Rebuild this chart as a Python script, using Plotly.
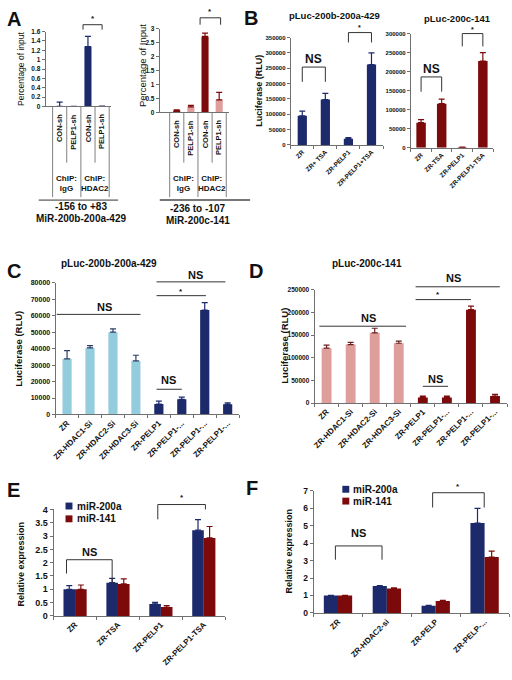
import plotly.graph_objects as go

W, H = 512, 680
def px(p): return p / W
def py(p): return 1 - p / H

FONT = "Arial, Liberation Sans, sans-serif"
NAVY = "#1C2A6C"
DRED = "#7C0A0A"
PINK = "#DE9E9C"
LBLUE = "#93CCDD"
AXC = "#707070"
TXT = "#111111"

# ---------------- data ----------------
A_cats = ["CON-sh", "PELP1-sh", "CON-sh", "PELP1-sh"]
A_groups = ["ChIP:<br>IgG", "ChIP:<br>HDAC2"]
A1_vals = [0.004, 0.004, 1.28, 0.008]
A1_err = [0.09, 0.0, 0.22, 0.0]
A2_vals = [0.07, 0.20, 2.72, 0.45]
A2_err = [0.02, 0.05, 0.12, 0.27]
A1_region = ["-156 to +83", "MiR-200b-200a-429"]
A2_region = ["-236 to -107", "MiR-200c-141"]
A1_ytitle = "Percentage of input"
A2_ytitle = "Percentage of Input"

B1_title = "pLuc-200b-200a-429"
B1_cats = ["ZR", "ZR+ TSA", "ZR-PELP1", "ZR-PELP1+TSA"]
B1_vals = [95000, 148000, 20000, 262000]
B1_err = [15000, 20000, 4000, 38000]
B2_title = "pLuc-200c-141"
B2_cats = ["ZR", "ZR-TSA", "ZR-PELP1", "ZR-PELP1-TSA"]
B2_vals = [66000, 116000, 1500, 228000]
B2_err = [8000, 12000, 500, 22000]
LUC_title = "Luciferase (RLU)"

C_title = "pLuc-200b-200a-429"
C_cats = ["ZR", "ZR-HDAC1-Si", "ZR-HDAC2-Si", "ZR-HDAC3-Si",
          "ZR-PELP1", "ZR-PELP1-...", "ZR-PELP1-...", "ZR-PELP1-..."]
C_vals = [33800, 40500, 50000, 32600, 6300, 9200, 63500, 6200]
C_err = [5000, 1400, 2000, 3400, 1800, 1300, 4500, 900]

D_title = "pLuc-200c-141"
D_cats = ["ZR", "ZR-HDAC1-Si", "ZR-HDAC2-Si", "ZR-HDAC3-Si",
          "ZR-PELP1", "ZR-PELP1-...", "ZR-PELP1-...", "ZR-PELP1-..."]
D_vals = [121000, 129000, 155000, 132000, 12500, 12500, 206000, 15500]
D_err = [7000, 5000, 10000, 4500, 3000, 3000, 8000, 3500]

SERIES = ["miR-200a", "miR-141"]
REL_title = "Relative expression"
E_cats = ["ZR", "ZR-TSA", "ZR-PELP1", "ZR-PELP1-TSA"]
E_200a = [1.0, 1.25, 0.45, 3.22]
E_200a_err = [0.14, 0.16, 0.06, 0.40]
E_141 = [1.0, 1.20, 0.33, 2.93]
E_141_err = [0.16, 0.19, 0.06, 0.43]

F_cats = ["ZR", "ZR-HDAC2-si", "ZR-PELP", "ZR-PELP-..."]
F_200a = [1.0, 1.54, 0.41, 5.15]
F_200a_err = [0.0, 0.03, 0.03, 0.84]
F_141 = [1.0, 1.40, 0.69, 3.20]
F_141_err = [0.0, 0.04, 0.03, 0.34]

# ---------------- geometry (pixels) ----------------
panels = {
    "A1": dict(n=1, xp=(42, 108), yp=(103, 27), xr=(-0.99, 3.64), yr=(0, 1.6), dt=0.2, tf=6.5),
    "A2": dict(n=2, xp=(157, 227), yp=(109, 24), xr=(-1.2, 3.71), yr=(0, 3), dt=0.5, tf=6.5),
    "B1": dict(n=3, xp=(289, 382), yp=(142, 33), xr=(-0.5, 3.5), yr=(0, 350000), dt=50000, tf=6),
    "B2": dict(n=4, xp=(410, 493), yp=(145, 29), xr=(-0.5, 3.5), yr=(0, 300000), dt=50000, tf=6),
    "C": dict(n=5, xp=(52, 237), yp=(415.6, 282), xr=(-0.5, 7.5), yr=(0, 80000), dt=10000, tf=7),
    "D": dict(n=6, xp=(313, 507), yp=(404, 289), xr=(-0.5, 7.5), yr=(0, 250000), dt=50000, tf=6.5),
    "E": dict(n=7, xp=(50, 223), yp=(620, 512), xr=(-0.5, 3.5), yr=(0, 4), dt=0.5, tf=9),
    "F": dict(n=8, xp=(312, 509), yp=(617, 493), xr=(-0.5, 3.5), yr=(0, 7), dt=1, tf=8.5),
}

def sfx(k):
    n = panels[k]["n"]
    return "" if n == 1 else str(n)

def xpix(k, v):
    p = panels[k]; a, b = p["xp"]; r0, r1 = p["xr"]
    return a + (v - r0) / (r1 - r0) * (b - a)

def bars(k, xs, ys, errs, color, ecolor, width, offset):
    s = sfx(k)
    return go.Bar(
        x=xs, y=ys, width=width, offset=offset,
        marker=dict(color=color, line=dict(width=0)),
        error_y=dict(type="data", symmetric=False, array=errs,
                     arrayminus=[0] * len(errs), color=ecolor,
                     thickness=1.2, width=3),
        xaxis="x" + s, yaxis="y" + s, showlegend=False, hoverinfo="skip")

fig = go.Figure()

# A
idx = list(range(len(A_cats)))
con = [i for i in idx if i % 2 == 0]
pel = [i for i in idx if i % 2 == 1]
fig.add_trace(bars("A1", con, [A1_vals[i] for i in con], [A1_err[i] for i in con], NAVY, NAVY, 0.5, -0.25))
fig.add_trace(bars("A1", pel, [A1_vals[i] for i in pel], [A1_err[i] for i in pel], LBLUE, NAVY, 0.5, -0.25))
fig.add_trace(bars("A2", con, [A2_vals[i] for i in con], [A2_err[i] for i in con], DRED, DRED, 0.5, -0.25))
fig.add_trace(bars("A2", pel, [A2_vals[i] for i in pel], [A2_err[i] for i in pel], PINK, DRED, 0.5, -0.25))

# B
fig.add_trace(bars("B1", list(range(4)), B1_vals, B1_err, NAVY, NAVY, 0.4, -0.2))
fig.add_trace(bars("B2", list(range(4)), B2_vals, B2_err, DRED, DRED, 0.46, -0.23))

# C / D
fig.add_trace(bars("C", list(range(4)), C_vals[:4], C_err[:4], LBLUE, "#2E3F66", 0.4, -0.2))
fig.add_trace(bars("C", list(range(4, 8)), C_vals[4:], C_err[4:], NAVY, NAVY, 0.4, -0.2))
fig.add_trace(bars("D", list(range(4)), D_vals[:4], D_err[:4], PINK, "#6A2020", 0.41, -0.205))
fig.add_trace(bars("D", list(range(4, 8)), D_vals[4:], D_err[4:], DRED, DRED, 0.41, -0.205))

# E / F
fig.add_trace(bars("E", list(range(4)), E_200a, E_200a_err, NAVY, NAVY, 0.27, -0.27))
fig.add_trace(bars("E", list(range(4)), E_141, E_141_err, DRED, DRED, 0.27, 0.0))
fig.add_trace(bars("F", list(range(4)), F_200a, F_200a_err, NAVY, NAVY, 0.29, -0.29))
fig.add_trace(bars("F", list(range(4)), F_141, F_141_err, DRED, DRED, 0.29, 0.0))

layout = dict(width=W, height=H, margin=dict(l=0, r=0, t=0, b=0),
              paper_bgcolor="white", plot_bgcolor="white", showlegend=False,
              font=dict(family=FONT, color=TXT))

cats_of = {"B1": B1_cats, "B2": B2_cats, "C": C_cats, "D": D_cats, "E": E_cats, "F": F_cats}
xtf = {"B1": 6.5, "B2": 6.5, "C": 8, "D": 8, "E": 8, "F": 8}
for k, p in panels.items():
    s = sfx(k)
    xa = dict(domain=[px(p["xp"][0]), px(p["xp"][1])], range=list(p["xr"]),
              anchor="y" + s, showline=True, linecolor=AXC, linewidth=1,
              showgrid=False, zeroline=False, ticks="", fixedrange=True)
    if k in cats_of:
        n = len(cats_of[k])
        xa.update(tickmode="array", tickvals=list(range(n)), ticktext=cats_of[k],
                  tickangle=-45,
                  tickfont=dict(size=xtf[k], family=FONT, color=TXT, weight="bold"),
                  minor=dict(tickmode="array", tickvals=[i - 0.5 for i in range(n + 1)],
                             ticks="outside", ticklen=3, tickcolor=AXC, showgrid=False))
    else:
        xa.update(showticklabels=False)
    ya = dict(domain=[py(p["yp"][0]), py(p["yp"][1])], range=list(p["yr"]),
              anchor="x" + s, showline=True, linecolor=AXC, linewidth=1,
              showgrid=False, zeroline=False, ticks="outside", ticklen=3,
              tickcolor=AXC, tick0=0, dtick=p["dt"], fixedrange=True,
              tickfont=dict(size=p["tf"], family=FONT, color=TXT, weight="bold"))
    if p["yr"][1] >= 1000:
        ya["tickformat"] = "d"
    layout["xaxis" + s] = xa
    layout["yaxis" + s] = ya

fig.update_layout(**layout)

shapes = []
ann = []

def text(x, y, t, size, bold=True, angle=0, xa="center", ya="middle", color=TXT):
    ann.append(dict(x=px(x), y=py(y), xref="paper", yref="paper", text=t,
                    showarrow=False, textangle=angle, xanchor=xa, yanchor=ya,
                    font=dict(size=size, family=FONT, color=color,
                              weight="bold" if bold else "normal")))

def line(x0, y0, x1, y1, color="#333333", w=1):
    shapes.append(dict(type="line", xref="paper", yref="paper",
                       x0=px(x0), y0=py(y0), x1=px(x1), y1=py(y1),
                       line=dict(color=color, width=w)))

def bracket(x0, x1, ytop, yl0, yl1, label, ylab, size):
    shapes.append(dict(type="path", xref="paper", yref="paper",
                       path="M %f %f L %f %f L %f %f L %f %f" % (
                           px(x0), py(yl0), px(x0), py(ytop), px(x1), py(ytop), px(x1), py(yl1)),
                       line=dict(color="#333333", width=1)))
    text((x0 + x1) / 2, ylab, label, size)

# panel letters
for L, x, y in [("A", 10, 14), ("B", 249, 13), ("C", 10, 270), ("D", 254, 270), ("E", 10, 492), ("F", 250, 490)]:
    text(x, y, L, 20)

# ---- A tables ----
for k, axis_y, region, ytitle, ytx, yty, yfs in [("A1", 103, A1_region, A1_ytitle, 17, 65, 8.5),
                                                 ("A2", 109, A2_region, A2_ytitle, 139, 61, 9.5)]:
    for b in range(5):
        xb = xpix(k, b - 0.5)
        yend = 195 if b % 2 == 0 else 160
        line(xb, axis_y, xb, yend, color="#808080", w=1)
    for i, c in enumerate(A_cats):
        text(xpix(k, i), axis_y + 6, c, 7.5, angle=-90, ya="top")
    for g, gl in enumerate(A_groups):
        text(xpix(k, 2 * g + 0.5), 181, gl, 8)
    x0 = xpix(k, -0.5)
    x1 = xpix(k, 3.5)
    xc = (x0 + x1) / 2
    if k == "A1":
        line(35, 198, 115, 198, color="#333333", w=1)
    else:
        line(157, 198, 248, 198, color="#777777", w=2)
    text(xc, 205 if k == "A1" else 207, region[0], 10)
    text(xc, 217 if k == "A1" else 219, region[1], 10)
    text(ytx, yty, ytitle, yfs, bold=False, angle=-90)

bracket(xpix("A1", 1.65), xpix("A1", 3.0), 20, 25, 25, "*", 14, 8)
bracket(xpix("A2", 1.65), xpix("A2", 3.1), 13, 20, 20, "*", 7, 8)

# ---- B ----
text(333, 11, B1_title, 9.5)
text(457, 14, B2_title, 9.5)
text(257, 87, LUC_title, 9, angle=-90)
bracket(xpix("B1", 0), xpix("B1", 1), 63, 78, 78, "NS", 55, 12)
bracket(xpix("B1", 2), xpix("B1", 3), 28, 38, 38, "*", 23, 7)
bracket(xpix("B2", 0), xpix("B2", 1), 73, 88, 88, "NS", 65, 12)
bracket(xpix("B2", 2), xpix("B2", 3), 29, 42, 42, "*", 25, 7)

# ---- C ----
text(106, 262, C_title, 10)
text(15, 349, LUC_title, 9.5, angle=-90)
line(xpix("C", -0.45), 314, xpix("C", 3.2), 314)
text(101, 307, "NS", 11)
line(xpix("C", 3.9), 281, xpix("C", 6.9), 281)
text(193, 274, "NS", 11)
line(xpix("C", 3.9), 295, xpix("C", 6.05), 295)
text(178, 291, "*", 8)
line(xpix("C", 3.9), 390, xpix("C", 5.0), 390)
text(166, 381, "NS", 11)

# ---- D ----
text(366, 262, D_title, 10)
text(283, 346, LUC_title, 9.5, angle=-90)
line(xpix("D", -0.3), 326, xpix("D", 3.3), 326)
text(367, 318, "NS", 11)
line(xpix("D", 3.7), 286, xpix("D", 7.2), 286)
text(453, 277, "NS", 11)
line(xpix("D", 3.7), 299, xpix("D", 6.0), 299)
text(437, 294, "*", 8)
line(xpix("D", 4.0), 387, xpix("D", 5.05), 387)
text(435, 380, "NS", 11)

# ---- E / F ----
text(17, 567, REL_title, 9, angle=-90)
text(287, 554, REL_title, 9, angle=-90)
leg = [("E", 62, [505, 518], 72), ("F", 341, [488, 500], 350)]
for k, sx, sys_, tx in leg:
    for j, (name, col) in enumerate(zip(SERIES, [NAVY, DRED])):
        shapes.append(dict(type="rect", xref="paper", yref="paper",
                           x0=px(sx), x1=px(sx + 7), y0=py(sys_[j] + 7), y1=py(sys_[j]),
                           fillcolor=col, line=dict(width=0)))
        text(tx, sys_[j] + 3.5, name, 10, xa="left")

bracket(63, 109, 563, 577, 588, "NS", 555, 11)
bracket(155, 203, 507, 522, 512, "*", 500, 8)
bracket(334, 381, 549, 563, 563, "NS", 536, 11)
bracket(432, 484, 495, 510, 510, "*", 489, 8)

fig.update_layout(shapes=shapes, annotations=ann)
fig.write_html("out.html", config={"displayModeBar": False, "staticPlot": True},
               post_script="document.body.style.margin='0';document.body.style.padding='0';"
                           "document.body.style.overflow='hidden';")
